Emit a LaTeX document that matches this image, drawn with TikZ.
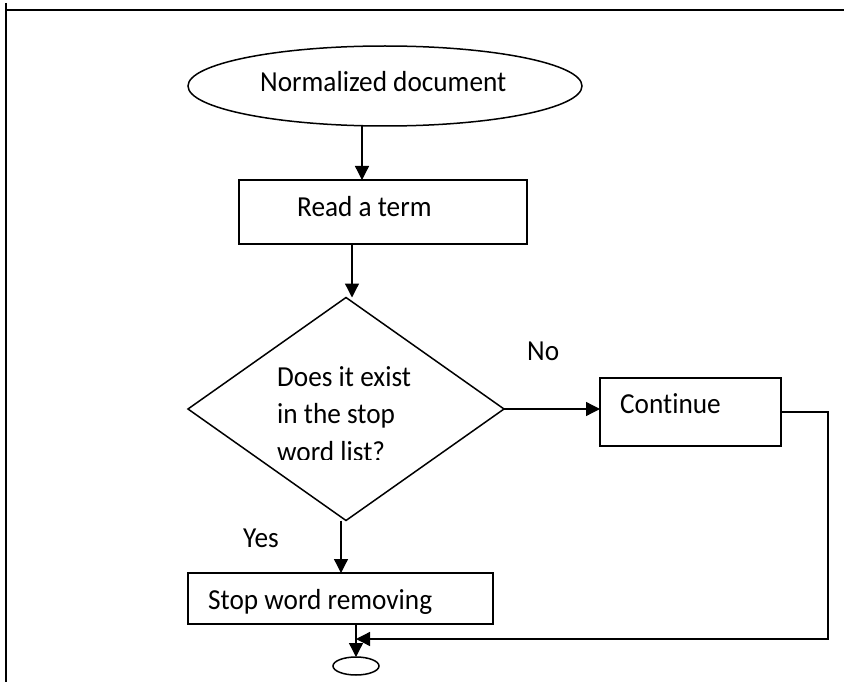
\documentclass[tikz,border=0pt]{standalone}
\usepackage{fontspec}
\setmainfont{Carlito}[FakeStretch=0.94,Ligatures=NoCommon]
\usetikzlibrary{shapes.geometric,arrows.meta}
\newcommand\flowfont{\fontsize{29}{35}\selectfont}
\begin{document}
\begin{tikzpicture}[x=1pt,y=-1pt,
  shapeline/.style={draw=black,line width=1.5pt,inner sep=0pt,outer sep=0pt},
  boxnode/.style={shapeline,rectangle},
  arr/.style={line width=1.3pt,-{Triangle[length=14pt,width=14pt]}},
  lbl/.style={anchor=base west,inner sep=0pt,font=\flowfont}]
\useasboundingbox (0,0) rectangle (844,682);

% page frame (left and top rules)
\draw[line width=1.5pt] (6,3) -- (6,682);
\draw[line width=1.5pt] (5,10) -- (844,10);

% flowchart shapes
\node[shapeline,ellipse,minimum width=394pt,minimum height=80pt] (start) at (385,86) {};
\node[boxnode,minimum width=288pt,minimum height=64pt] (read) at (383,212) {};
\node[shapeline,diamond,minimum width=316pt,minimum height=223pt] (check) at (346,409) {};
\node[boxnode,minimum width=181pt,minimum height=68pt] (cont) at (690.5,412) {};
\node[boxnode,minimum width=305pt,minimum height=51pt] (remove) at (340.5,598.5) {};
\node[shapeline,ellipse,minimum width=46pt,minimum height=18pt] (stop) at (356,666) {};

% texts
\node[lbl] (tstart) at (260,92) {Normalized document};
\node[lbl] (tread) at (297,216) {Read a term};
\node[lbl] (tq1) at (277,386) {Does it exist};
\node[lbl] (tq2) at (277,423) {in the stop};
\begin{scope}
  \clip (0,0) rectangle (844,459);
  \node[lbl] (tq3) at (277,461) {word list?};
\end{scope}
\node[lbl] (tno) at (527,360) {No};
\node[lbl] (tcont) at (620,413) {Continue};
\node[lbl] (tyes) at (243,547) {Yes};
\begin{scope}
  \clip (0,0) rectangle (844,613);
  \node[lbl] (tremove) at (208,609) {Stop word removing};
\end{scope}

% connectors
\draw[arr] ([xshift=-23pt]start.south) -- ([xshift=-21pt]read.north);
\draw[arr] ([xshift=-31pt]read.south) -- ([xshift=6pt]check.north);
\draw[arr] (check.east) -- (check.east -| cont.west);
\draw[arr] ([xshift=-5pt]check.south) -- ([xshift=-5pt]check.south |- remove.north);
\draw[arr] (stop.north |- remove.south) -- (stop.north);
\coordinate (merge) at (356,639);
\draw[arr] (cont.east) -- ++(47,0) |- (merge);
\end{tikzpicture}
\end{document}
